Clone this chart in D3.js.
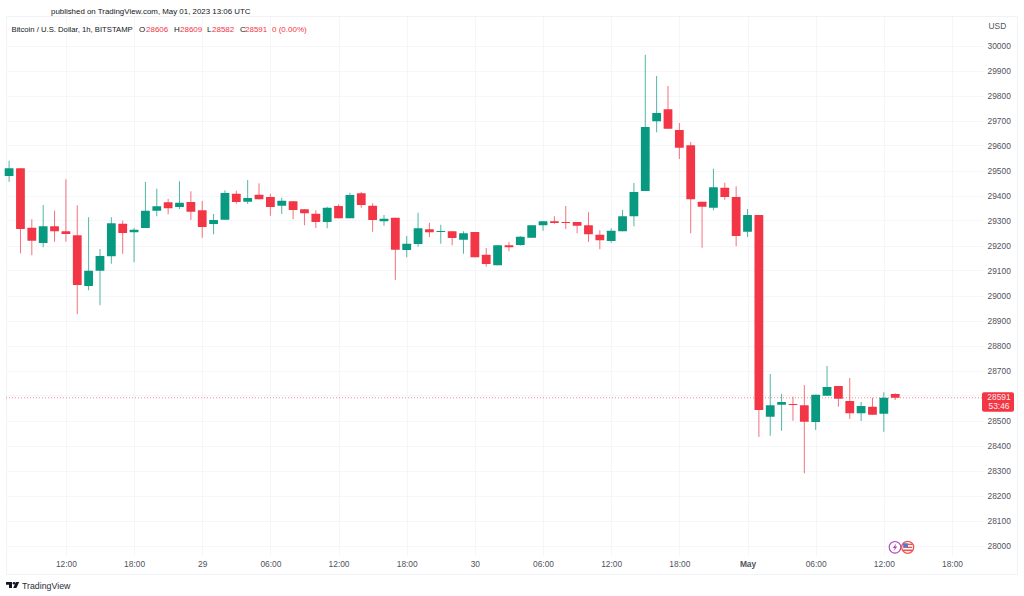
<!DOCTYPE html>
<html>
<head>
<meta charset="utf-8">
<script src="https://cdn.jsdelivr.net/npm/d3@7"></script>
<style>
    html, body { margin: 0; padding: 0; background: #ffffff; overflow: hidden; }
    text { font-family: "Liberation Sans", Inter, sans-serif; }
</style>
</head>
<body>
<div id="chart"></div>
<script>
// hourly candles, 28 Apr 07:00 to 1 May 13:00
var opens = [29478,29509,29271,29210,29277,29257,29241,29038,29099,29157,29287,29253,29270,29339,29373,29354,29374,29341,29286,29303,
    29407,29375,29403,29394,29359,29377,29345,29327,29294,29358,29309,29409,29359,29297,29311,29182,29206,29265,29254,29257,
    29223,29254,29163,29121,29201,29202,29231,29281,29297,29294,29294,29281,29243,29218,29257,29317,29418,29697,29745,29662,
    29601,29375,29351,29431,29394,29255,29322,28515,28563,28566,28561,28494,28599,28638,28578,28529,28555,28527,28606];
var highs = [29539,29509,29305,29362,29339,29465,29361,29313,29186,29313,29299,29270,29454,29427,29387,29457,29417,29378,29326,29421,
    29419,29462,29449,29407,29391,29377,29345,29341,29355,29365,29411,29414,29369,29322,29311,29238,29331,29291,29283,29257,
    29257,29254,29190,29201,29214,29238,29282,29297,29317,29358,29294,29333,29261,29269,29342,29450,29963,29878,29838,29690,
    29614,29375,29507,29451,29437,29346,29322,28686,28606,28595,28642,28603,28718,28638,28670,28574,28591,28613,28609];
var lows = [29455,29169,29161,29193,29215,29215,28925,29021,28961,29127,29167,29133,29270,29317,29325,29346,29302,29231,29245,29303,
    29367,29366,29384,29319,29326,29305,29281,29270,29269,29309,29309,29351,29255,29279,29062,29153,29195,29234,29207,29201,
    29167,29153,29115,29121,29177,29199,29230,29259,29287,29266,29249,29214,29185,29211,29257,29277,29418,29653,29667,29546,
    29249,29191,29341,29383,29197,29234,28434,28439,28459,28499,28289,28462,28598,28555,28506,28498,28523,28455,28582];
var closes = [29509,29266,29219,29277,29257,29246,29042,29099,29158,29289,29250,29263,29339,29357,29349,29371,29335,29274,29302,29410,
    29374,29390,29385,29354,29379,29342,29329,29294,29351,29309,29402,29362,29302,29307,29183,29207,29269,29253,29258,29230,
    29249,29153,29126,29201,29193,29235,29281,29297,29290,29291,29279,29245,29221,29259,29317,29414,29674,29730,29667,29591,
    29385,29355,29433,29394,29238,29322,28542,28561,28574,28563,28495,28603,28634,28587,28529,28558,28523,28591,28591];

var priceTicks = [28000,28100,28200,28300,28400,28500,28600,28700,28800,28900,29000,29100,29200,29300,29400,29500,29600,29700,29800,29900,30000];
var hiddenPriceLabels = [28600]; // covered by the last price tag
var timeTickIdx = [5,11,17,23,29,35,41,47,53,59,65,71,77,83];
var timeTickLabels = ["12:00","18:00","29","06:00","12:00","18:00","30","06:00","12:00","18:00","May","06:00","12:00","18:00"];
var boldTimeLabels = ["May"];

var legendItems = [
    {t: "O", c: "#131722", x: 139}, {t: "28606", c: "#f23645", x: 146},
    {t: "H", c: "#131722", x: 174}, {t: "28609", c: "#f23645", x: 180},
    {t: "L", c: "#131722", x: 207}, {t: "28582", c: "#f23645", x: 212},
    {t: "C", c: "#131722", x: 240}, {t: "28591", c: "#f23645", x: 245},
    {t: "0 (0.00%)", c: "#f23645", x: 272}
];

var width = 1024, height = 596;
var pane = {left: 6, right: 983, top: 16, bottom: 556, axisRight: 1017, axisBottom: 574};
var up = "#089981", down = "#f23645", gridColor = "#f4f6f9", borderColor = "#f0f2f6";

var svg = d3.select("#chart").append("svg")
    .attr("width", width)
    .attr("height", height)
    .style("display", "block");

var x = d3.scaleLinear().domain([0, 83]).range([9.1, 952]);
var y = d3.scaleLinear().domain([28000, 30000]).range([545.5, 45.5]);
var bodyW = 8.8;

// grid
svg.append("g").selectAll("line").data(priceTicks).enter().append("line")
    .attr("x1", pane.left).attr("x2", pane.right)
    .attr("y1", function (d) { return Math.round(y(d)) + 0.5; })
    .attr("y2", function (d) { return Math.round(y(d)) + 0.5; })
    .attr("stroke", gridColor);
svg.append("g").selectAll("line").data(timeTickIdx).enter().append("line")
    .attr("x1", function (d) { return Math.round(x(d)) + 0.5; })
    .attr("x2", function (d) { return Math.round(x(d)) + 0.5; })
    .attr("y1", pane.top).attr("y2", pane.bottom)
    .attr("stroke", gridColor);

// frame
var frame = svg.append("g").attr("stroke", borderColor).attr("fill", "none");
frame.append("rect")
    .attr("x", pane.left + 0.5).attr("y", pane.top + 0.5)
    .attr("width", pane.axisRight - pane.left).attr("height", pane.axisBottom - pane.top);

// last price line
svg.append("line")
    .attr("x1", pane.left).attr("x2", 982)
    .attr("y1", y(28591)).attr("y2", y(28591))
    .attr("stroke", down).attr("stroke-width", 1).attr("stroke-dasharray", "1 2").attr("opacity", 0.6);

// candles
var candles = svg.append("g").selectAll("g").data(d3.range(opens.length)).enter().append("g");
candles.append("line")
    .attr("x1", function (i) { return x(i); })
    .attr("x2", function (i) { return x(i); })
    .attr("y1", function (i) { return y(highs[i]); })
    .attr("y2", function (i) { return y(lows[i]); })
    .attr("stroke", function (i) { return closes[i] >= opens[i] ? up : down; })
    .attr("stroke-width", 1)
    .attr("opacity", 0.7);
candles.append("rect")
    .attr("x", function (i) { return x(i) - bodyW / 2; })
    .attr("width", bodyW)
    .attr("y", function (i) { return y(Math.max(opens[i], closes[i])); })
    .attr("height", function (i) { return Math.max(1, Math.abs(y(opens[i]) - y(closes[i]))); })
    .attr("rx", 0.5)
    .attr("fill", function (i) { return closes[i] >= opens[i] ? up : down; });

// price axis
var yAxis = d3.axisRight(y)
    .tickValues(priceTicks.filter(function (d) { return hiddenPriceLabels.indexOf(d) < 0; }))
    .tickSize(0).tickPadding(0).tickFormat(d3.format("d"));
var yg = svg.append("g").attr("transform", "translate(987.5,0)").call(yAxis);
yg.select(".domain").remove();
yg.selectAll("text").style("font-size", "8.4px").style("font-family", "\"Liberation Sans\"").style("fill", "#50535e");

svg.append("text").attr("x", 988.5).attr("y", 28.5)
    .style("font-size", "8.4px").style("fill", "#50535e").text("USD");

// time axis
var xAxis = d3.axisBottom(x)
    .tickValues(timeTickIdx).tickSize(0).tickPadding(0)
    .tickFormat(function (d, i) { return timeTickLabels[i]; });
var xg = svg.append("g").attr("transform", "translate(0,561)").call(xAxis);
xg.select(".domain").remove();
xg.selectAll("text").style("font-size", "8.4px").style("font-family", "\"Liberation Sans\"").style("fill", "#50535e")
    .style("font-weight", function (d, i) { return boldTimeLabels.indexOf(timeTickLabels[i]) >= 0 ? 700 : 400; });

// last price tag
svg.append("rect").attr("x", 982).attr("y", 392.3).attr("width", 32).attr("height", 19.4).attr("rx", 2).attr("fill", down);
svg.append("text").attr("x", 999).attr("y", 400.2).attr("text-anchor", "middle")
    .style("font-size", "8.4px").style("fill", "#ffe9eb").text("28591");
svg.append("text").attr("x", 999).attr("y", 409.2).attr("text-anchor", "middle")
    .style("font-size", "8.4px").style("fill", "#ffe9eb").text("53:46");

// header
svg.append("text").attr("x", 51).attr("y", 14)
    .style("font-size", "7.9px").style("fill", "#131722")
    .text("published on TradingView.com, May 01, 2023 13:06 UTC");
svg.append("text").attr("x", 11.5).attr("y", 31.5)
    .style("font-size", "7.7px").style("fill", "#131722")
    .text("Bitcoin / U.S. Dollar, 1h, BITSTAMP");
svg.append("g").selectAll("text").data(legendItems).enter().append("text")
    .attr("x", function (d) { return d.x; }).attr("y", 31.5)
    .style("font-size", "8px")
    .style("fill", function (d) { return d.c; })
    .text(function (d) { return d.t; });

// event icons
var purple = svg.append("g").attr("transform", "translate(895,547.3)");
purple.append("circle").attr("r", 5.8).attr("fill", "#fff").attr("stroke", "#ab47bc").attr("stroke-width", 1.1);
purple.append("path").attr("d", "M1.3,-4L-2.2,0.7H-0.2L-1.3,4L2.2,-0.7H0.2Z").attr("fill", "#ab47bc");
var flag = svg.append("g").attr("transform", "translate(907.7,547.3)");
flag.append("circle").attr("r", 6).attr("fill", "#fff").attr("stroke", "#ef5350").attr("stroke-width", 1.3);
flag.append("rect").attr("x", -4.5).attr("y", -3.6).attr("width", 9).attr("height", 1.3).attr("fill", "#ef5350");
flag.append("rect").attr("x", -4.5).attr("y", -0.6).attr("width", 9).attr("height", 1.3).attr("fill", "#ef5350");
flag.append("rect").attr("x", -4.5).attr("y", 2.2).attr("width", 9).attr("height", 1.6).attr("fill", "#ef5350");
flag.append("rect").attr("x", -4.5).attr("y", -4).attr("width", 4.8).attr("height", 3.8).attr("fill", "#4a7fd0");

// logo
var logo = svg.append("g").attr("transform", "translate(6,582)").attr("fill", "#131722");
logo.append("path").attr("d", "M0,0H6V6H3V2.7H0Z");
logo.append("circle").attr("cx", 8).attr("cy", 1.3).attr("r", 1.3);
logo.append("path").attr("d", "M9.8,0H13.2L10.4,6H7.2Z");
svg.append("text").attr("x", 22).attr("y", 588.5)
    .style("font-size", "8.8px").style("fill", "#2a2e39").text("TradingView");
</script>
</body>
</html>
